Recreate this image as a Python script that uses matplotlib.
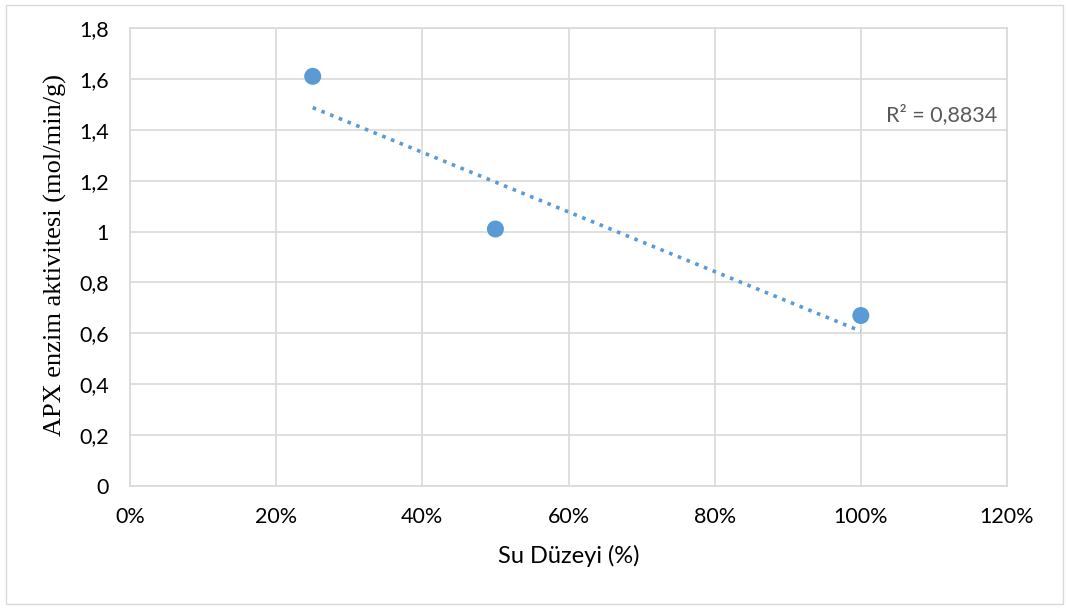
import numpy as np
import matplotlib
matplotlib.use("Agg")
import matplotlib.pyplot as plt
from matplotlib.ticker import FuncFormatter
from matplotlib.patches import Rectangle

water_level = [0.25, 0.50, 1.00]
apx_activity = [1.61, 1.01, 0.67]
x_ticks = [0, 0.2, 0.4, 0.6, 0.8, 1.0, 1.2]
y_ticks = [0, 0.2, 0.4, 0.6, 0.8, 1.0, 1.2, 1.4, 1.6, 1.8]
r2_label = "R² = 0,8834"

W, H = 1066, 608
fig = plt.figure(figsize=(W / 100, H / 100), dpi=100)
fig.patch.set_facecolor("white")
fig.add_artist(Rectangle((6 / W, 4 / H), (1063 - 6) / W, (603 - 4) / H,
                         transform=fig.transFigure, fill=False,
                         edgecolor="#d9d9d9", linewidth=1.0))

left, right, top, bottom = 130, 1007, 28, 486
ax = fig.add_axes([left / W, 1 - bottom / H, (right - left) / W, (bottom - top) / H])

ax.set_xlim(0, 1.2)
ax.set_ylim(0, 1.8)
ax.set_xticks(x_ticks)
ax.set_yticks(y_ticks)
ax.grid(True, color="#d9d9d9", linewidth=1.2)
ax.set_axisbelow(True)
for s in ax.spines.values():
    s.set_color("#d9d9d9")
    s.set_linewidth(1.2)

tick_font = "Lato"
ax.tick_params(axis="y", length=0, pad=15, labelsize=15.5, labelcolor="#000000")
ax.tick_params(axis="x", length=0, pad=15, labelsize=15.5, labelcolor="#000000")

ax.xaxis.set_major_formatter(FuncFormatter(lambda v, p: f"{int(round(v * 100))}%"))
def yfmt(v, p):
    s = f"{v:.1f}".replace(".", ",")
    if s.endswith(",0"):
        s = s[:-2]
    return s
ax.yaxis.set_major_formatter(FuncFormatter(yfmt))
for lab in ax.get_xticklabels() + ax.get_yticklabels():
    lab.set_fontfamily(tick_font)

# trendline
coef = np.polyfit(water_level, apx_activity, 1)
xs = np.array([min(water_level), max(water_level)])
ax.plot(xs, np.polyval(coef, xs), linestyle=(0, (1, 1.6)), color="#5b9bd5",
        linewidth=2.6, zorder=2)

ax.scatter(water_level, apx_activity, s=150, color="#5b9bd5", zorder=3,
           edgecolors="none")

ax.text(1.186, 1.458, r2_label, ha="right", va="center", fontsize=15.5,
        color="#595959", family=tick_font)

ax.set_xlabel("Su Düzeyi (%)", fontsize=17, family=tick_font, labelpad=13)
ax.set_ylabel("APX enzim aktivitesi (mol/min/g)", fontsize=19,
              family="Liberation Serif")
ax.yaxis.set_label_coords(-0.072, 0.504)

fig.savefig("out.png", dpi=100)
